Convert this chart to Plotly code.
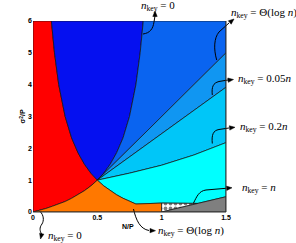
import plotly.graph_objects as go

# ---- data ----
x_ticks = [0, 0.5, 1, 1.5]
x_ticktext = ["0", "0.5", "1", "1.5"]
y_ticks = [0, 1, 2, 3, 4, 5, 6]
y_ticktext = ["0", "1", "2", "3", "4", "5", "6"]

# red / blue boundary (above the crossing point)
red_blue_x = [0.143, 0.167, 0.2, 0.25, 0.3, 0.35, 0.4, 0.45, 0.5]
red_blue_y = [6.0, 5.0, 4.0, 3.0, 2.33, 1.86, 1.5, 1.22, 1.0]
# right boundary of dark blue region
blue_right_x = [0.5, 0.55, 0.6, 0.65, 0.7, 0.75, 0.8, 0.833, 0.857]
blue_right_y = [1.0, 1.22, 1.5, 1.86, 2.33, 3.0, 4.0, 5.0, 6.0]
# red / orange boundary
red_orange_x = [0.0, 0.05, 0.1, 0.15, 0.2, 0.25, 0.3, 0.35, 0.4, 0.45, 0.5]
red_orange_y = [0.0, 0.05, 0.11, 0.18, 0.25, 0.33, 0.43, 0.54, 0.67, 0.82, 1.0]
# top of orange region (right of crossing point)
orange_top_x = [0.5, 0.55, 0.6, 0.65, 0.7, 0.75, 0.8, 1.0]
orange_top_y = [1.0, 0.82, 0.67, 0.54, 0.43, 0.33, 0.25, 0.28]
# fan of boundaries from the crossing point
line_a_x = [0.5, 1.5]
line_a_y = [1.0, 5.0]
line_b_x = [0.5, 1.5]
line_b_y = [1.0, 3.92]
line_c_x = [0.5, 0.75, 1.0, 1.25, 1.5]
line_c_y = [1.0, 1.22, 1.47, 1.79, 2.18]
# dotted wedge and grey triangle
dotted_top_x = [1.0, 1.28]
dotted_top_y = [0.28, 0.27]
grey_top_x = [1.0, 1.28, 1.5]
grey_top_y = [0.0, 0.27, 0.48]

col_red = "#ff0000"
col_blue = "#0510f0"
col_b2 = "#0a64f0"
col_b3 = "#1096f2"
col_b4 = "#00c6f8"
col_cyan = "#00ffff"
col_orange = "#ff7800"
col_grey = "#7f7f7f"

fig = go.Figure()


def region(xs, ys, color, pattern=None):
    kw = dict(x=xs + [xs[0]], y=ys + [ys[0]], mode="lines", fill="toself",
              fillcolor=color, line=dict(color="#111111", width=0.7),
              hoverinfo="skip", showlegend=False)
    if pattern:
        kw["fillpattern"] = pattern
    fig.add_trace(go.Scatter(**kw))


# red
region([0.0] + red_orange_x + red_blue_x[::-1][1:] + [0.0],
       [0.0] + red_orange_y + red_blue_y[::-1][1:] + [6.0], col_red)
# dark blue
region(red_blue_x + blue_right_x[1:], red_blue_y + blue_right_y[1:], col_blue)
# medium blue
region(blue_right_x + [1.5] + line_a_x[::-1][:1],
       blue_right_y + [6.0] + line_a_y[::-1][:1], col_b2)
# blue 3
region(line_a_x + line_b_x[::-1][:1], line_a_y + line_b_y[::-1][:1], col_b3)
# blue 4
region(line_b_x + line_c_x[::-1], line_b_y + line_c_y[::-1], col_b4)
# cyan
region(line_c_x + grey_top_x[::-1][:2] + dotted_top_x[::-1][1:] + orange_top_x[::-1][1:],
       line_c_y + grey_top_y[::-1][:2] + dotted_top_y[::-1][1:] + orange_top_y[::-1][1:],
       col_cyan)
# orange
region(red_orange_x + orange_top_x[1:] + [1.0],
       red_orange_y + orange_top_y[1:] + [0.0], col_orange)
# dotted wedge
region(dotted_top_x + grey_top_x[:2][::-1],
       dotted_top_y + grey_top_y[:2][::-1], "white",
       pattern=dict(shape=".", fgcolor="black", bgcolor="white", size=5, solidity=0.45))
# grey triangle
region([1.0, 1.5, 1.5], [0.0, 0.0, 0.48], col_grey)

# ---- layout geometry (pixels) ----
L, T, W, H = 33, 21, 193, 191
FW, FH = 296, 243


def P(px, py):
    return ((px - L) / W, (T + H - py) / H)


def path(points, cmd):
    s = ""
    for c, pts in zip(cmd, points):
        s += c + " " + " ".join("%.4f,%.4f" % P(*p) for p in pts) + " "
    return s.strip()


def arrowhead(tip, base):
    tx, ty = tip
    bx, by = base
    dx, dy = tx - bx, ty - by
    n = (dx * dx + dy * dy) ** 0.5
    dx, dy = dx / n, dy / n
    ln, hw = 5.5, 2.2
    cx, cy = tx - ln * dx, ty - ln * dy
    p1 = (cx - hw * dy, cy + hw * dx)
    p2 = (cx + hw * dy, cy - hw * dx)
    s = "M %.4f,%.4f L %.4f,%.4f L %.4f,%.4f Z" % (*P(tx, ty), *P(*p1), *P(*p2))
    fig.add_shape(type="path", path=s, xref="paper", yref="paper",
                  fillcolor="black", line=dict(color="black", width=0.5), layer="above")


def hook(s):
    fig.add_shape(type="path", path=s, xref="paper", yref="paper",
                  line=dict(color="black", width=1), layer="above")


# n_key = 0 (top)
hook(path([[(143, 34)], [(150, 33), (153, 29), (154, 22)], [(155, 16)]], ["M", "C", "L"]))
arrowhead((155, 11), (155, 17))
# Theta(log n) top right
hook(path([[(216.7, 60)], [(213.5, 49), (214, 38), (219, 32)], [(229, 23)]], ["M", "C", "L"]))
arrowhead((234, 19), (228, 24))
# 0.05n
hook(path([[(212.3, 95)], [(211.5, 87), (213, 83), (219, 81.5)], [(228, 80)]], ["M", "C", "L"]))
arrowhead((233.5, 79.5), (227, 80.3))
# 0.2n
hook(path([[(212.3, 143.5)], [(211.5, 135), (213, 130.5), (219, 129.5)], [(229, 128)]], ["M", "C", "L"]))
arrowhead((235, 127.3), (228, 128.1))
# n
hook(path([[(193.3, 203.5)], [(197, 196), (199, 191), (206, 190)], [(226, 188.3)]], ["M", "C", "L"]))
arrowhead((232, 187.8), (225, 188.4))
# n_key = 0 (bottom)
hook(path([[(40, 211.5)], [(44, 215), (44, 221), (42, 224)], [(39, 228), (40, 231), (41.5, 234)]],
          ["M", "C", "C"]))
arrowhead((40.5, 239), (41.8, 233.5))
# Theta(log n) bottom
hook(path([[(133.5, 209)], [(136, 220), (140, 229), (149, 230.5)]], ["M", "C"]))
arrowhead((155.5, 230.7), (149, 230.6))

math_font = dict(family="Liberation Serif", size=11, color="black")


def label(px, py, text):
    x, y = P(px, py)
    fig.add_annotation(x=x, y=y, xref="paper", yref="paper", text=text,
                       showarrow=False, xanchor="left", yanchor="middle",
                       font=math_font)


label(139, 6, "<i>n</i><sub>key</sub> = 0")
label(229, 13, "<i>n</i><sub>key</sub> = Θ(log <i>n</i>)")
label(236, 79, "<i>n</i><sub>key</sub> = 0.05<i>n</i>")
label(237.5, 127, "<i>n</i><sub>key</sub> = 0.2<i>n</i>")
label(239.5, 188, "<i>n</i><sub>key</sub> = <i>n</i>")
label(45.5, 236, "<i>n</i><sub>key</sub> = 0")
label(156, 230.5, "<i>n</i><sub>key</sub> = Θ(log <i>n</i>)")

small_bold = dict(family="Liberation Sans", size=7, color="black", weight="bold")
x, y = P(127.5, 226)
fig.add_annotation(x=x, y=y, xref="paper", yref="paper", text="N/P", showarrow=False,
                   xanchor="center", yanchor="middle", font=small_bold)
x, y = P(22, 116.5)
fig.add_annotation(x=x, y=y, xref="paper", yref="paper", text="σ<sup>2</sup>/P", showarrow=False,
                   xanchor="center", yanchor="middle", textangle=-90, font=small_bold)

# frame: bottom and right edges
fig.add_shape(type="line", xref="paper", yref="paper", x0=0, x1=1, y0=0, y1=0,
              line=dict(color="#333333", width=1), layer="above")
fig.add_shape(type="line", xref="paper", yref="paper", x0=1, x1=1, y0=0, y1=1,
              line=dict(color="#333333", width=1), layer="above")

fig.update_layout(
    width=FW, height=FH, autosize=False,
    margin=dict(l=L, r=FW - L - W, t=T, b=FH - T - H, pad=0),
    paper_bgcolor="white", plot_bgcolor="white",
    showlegend=False, hovermode=False,
    xaxis=dict(range=[0, 1.5], tickvals=x_ticks, ticktext=x_ticktext, showgrid=False,
               zeroline=False, showline=False, ticks="", tickfont=small_bold, fixedrange=True),
    yaxis=dict(range=[0, 6], tickvals=y_ticks, ticktext=y_ticktext, showgrid=False,
               zeroline=False, showline=False, ticks="", tickfont=small_bold, fixedrange=True),
)

fig.write_html("out.html", config={"displayModeBar": False},
               post_script="document.body.style.margin='0';document.body.style.overflow='hidden';")
